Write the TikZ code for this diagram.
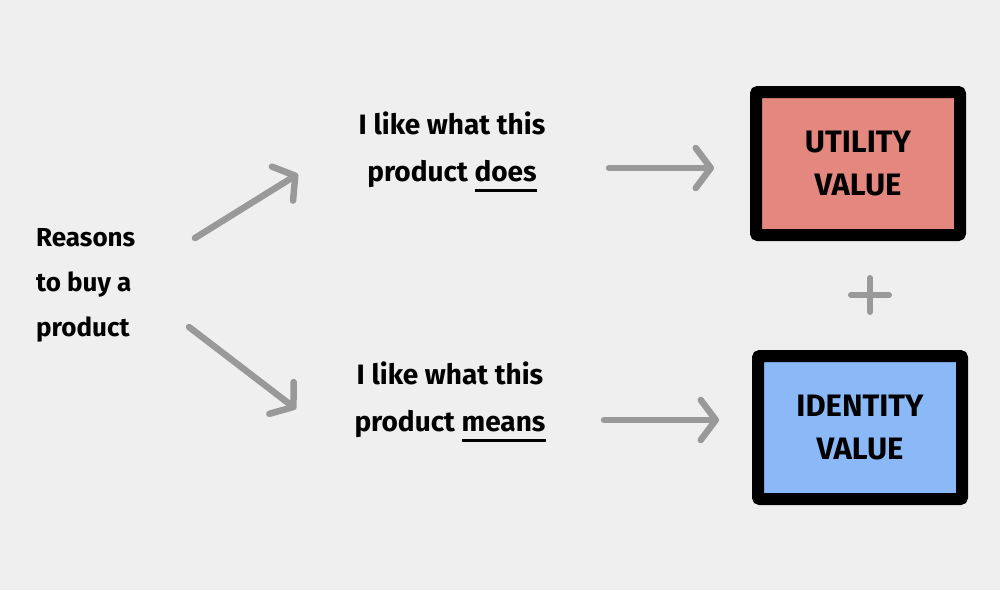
\documentclass[tikz,border=0pt]{standalone}
\usepackage{fontspec}
\setmainfont{Fira Sans}
\usetikzlibrary{arrows.meta}
\definecolor{bg}{HTML}{EFEFEF}
\definecolor{arrgray}{HTML}{999999}
\definecolor{utilred}{HTML}{E4877F}
\definecolor{identblue}{HTML}{8BB8F7}
\newcommand\markul[1]{\setbox0\hbox{#1}\rlap{\raisebox{-10pt}{\rule{\wd0}{2.6pt}}}\box0}
\tikzset{
  arr/.style={draw=arrgray, line width=6.5pt, line cap=round, line join=round,
    -{Straight Barb[length=15pt,width=40pt,line cap=round,line join=round]}},
  txt/.style={font=\fontsize{28}{47}\selectfont\bfseries, align=center, inner sep=0pt, text=black},
  valbox/.style={draw=black, line width=12pt, rounded corners=2pt, minimum width=204pt, minimum height=143pt,
    font=\fontsize{31}{43}\selectfont\bfseries, align=center, text=black},
}
\begin{document}
\begin{tikzpicture}[x=1pt,y=-1pt]
\fill[bg] (0,0) rectangle (1000,590);
\useasboundingbox (0,0) rectangle (1000,590);
% left text
\node[txt, align=left, anchor=west, font=\fontsize{26}{45}\selectfont\bfseries] (reasons) at (36,285) {Reasons\\to buy a\\product};
% middle texts
\node[txt] (does) at (452,152) {I like what this\\product \markul{does}};
\node[txt] (means) at (450,402) {I like what this\\product \markul{means}};
% boxes
\node[valbox, fill=utilred] (utility) at (858,163.5) {UTILITY\\VALUE};
\node[valbox, fill=identblue] (identity) at (860,427.5) {IDENTITY\\VALUE};
% arrow ends
\coordinate (a1s) at (195,238); \coordinate (a1e) at (298,174);
\coordinate (a2s) at (189,327); \coordinate (a2e) at (296,409);
\coordinate (a3s) at (609,168); \coordinate (a3e) at (714,168);
\coordinate (a4s) at (604,420); \coordinate (a4e) at (719,420);
\draw[arr] (a1s) -- (a1e);
\draw[arr] (a2s) -- (a2e);
\draw[arr] (a3s) -- (a3e);
\draw[arr] (a4s) -- (a4e);
% plus sign
\coordinate (plus) at (870,295);
\draw[arrgray, line width=6pt, line cap=round] ([xshift=-19pt]plus) -- ([xshift=19pt]plus);
\draw[arrgray, line width=6pt, line cap=round] ([yshift=-17pt]plus) -- ([yshift=17pt]plus);
\end{tikzpicture}
\end{document}
